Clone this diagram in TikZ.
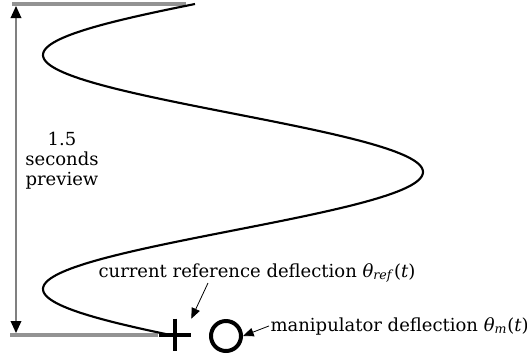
\documentclass[tikz,border=0pt]{standalone}
\usepackage{amsmath,amssymb}
\usepackage{fontspec}
\setmainfont{DejaVu Serif}
\usepackage{tikz}
\usetikzlibrary{calc,arrows.meta,positioning}

\tikzset{
  window edge/.style={draw=gray!85,line width=2.4pt},
  span/.style={draw=gray,line width=1pt,{Triangle[length=9pt,width=8pt,black]}-{Triangle[length=9pt,width=8pt,black]}},
  pointer/.style={-{Triangle[length=8pt,width=6.5pt]},line width=0.6pt},
  label/.style={inner sep=1pt,font=\fontsize{13.5}{15}\selectfont}
}
\newcommand{\angvar}[1]{\textit{θ}\textsubscript{\textit{#1}}(\textit{t})}

\begin{document}
\begin{tikzpicture}[x=0.75pt,y=-0.75pt, line join=round]
\useasboundingbox (0,0) rectangle (527,358);
% preview window limits
\draw[window edge] (12,4) -- (186,4);
\draw[window edge] (10,335) -- (158,335);
\coordinate (top) at (16,6);
\coordinate (bot) at (16,333);
\draw[span] (top) -- (bot);
\node[label,align=center] (window) at (62,161) {1.5\\seconds\\preview};
% reference trajectory
\draw[line width=1.6pt] plot[domain=4:335,samples=200,variable=\t]
  ({233-190*cos((\t-55)*1.53846)},\t);
% current reference and manipulator markers
\node[minimum size=24pt,inner sep=0pt] (ref) at (175,335) {};
\draw[line width=3pt] (ref.north) -- (ref.south) (ref.west) -- (ref.east);
\node[circle,draw,line width=3pt,minimum size=22.5pt,inner sep=0pt] (man) at (226,336) {};
% labels
\node[label,anchor=base] (reftxt) at (257,277) {current reference deflection \angvar{ref}};
\node[label,anchor=base west] (mantxt) at (269,331) {manipulator deflection \angvar{m}};
\coordinate (reftail) at (208,283);
\draw[pointer] (reftail) -- (ref.north east);
\draw[pointer] (mantxt.west) -- (man.east);
\end{tikzpicture}
\end{document}
